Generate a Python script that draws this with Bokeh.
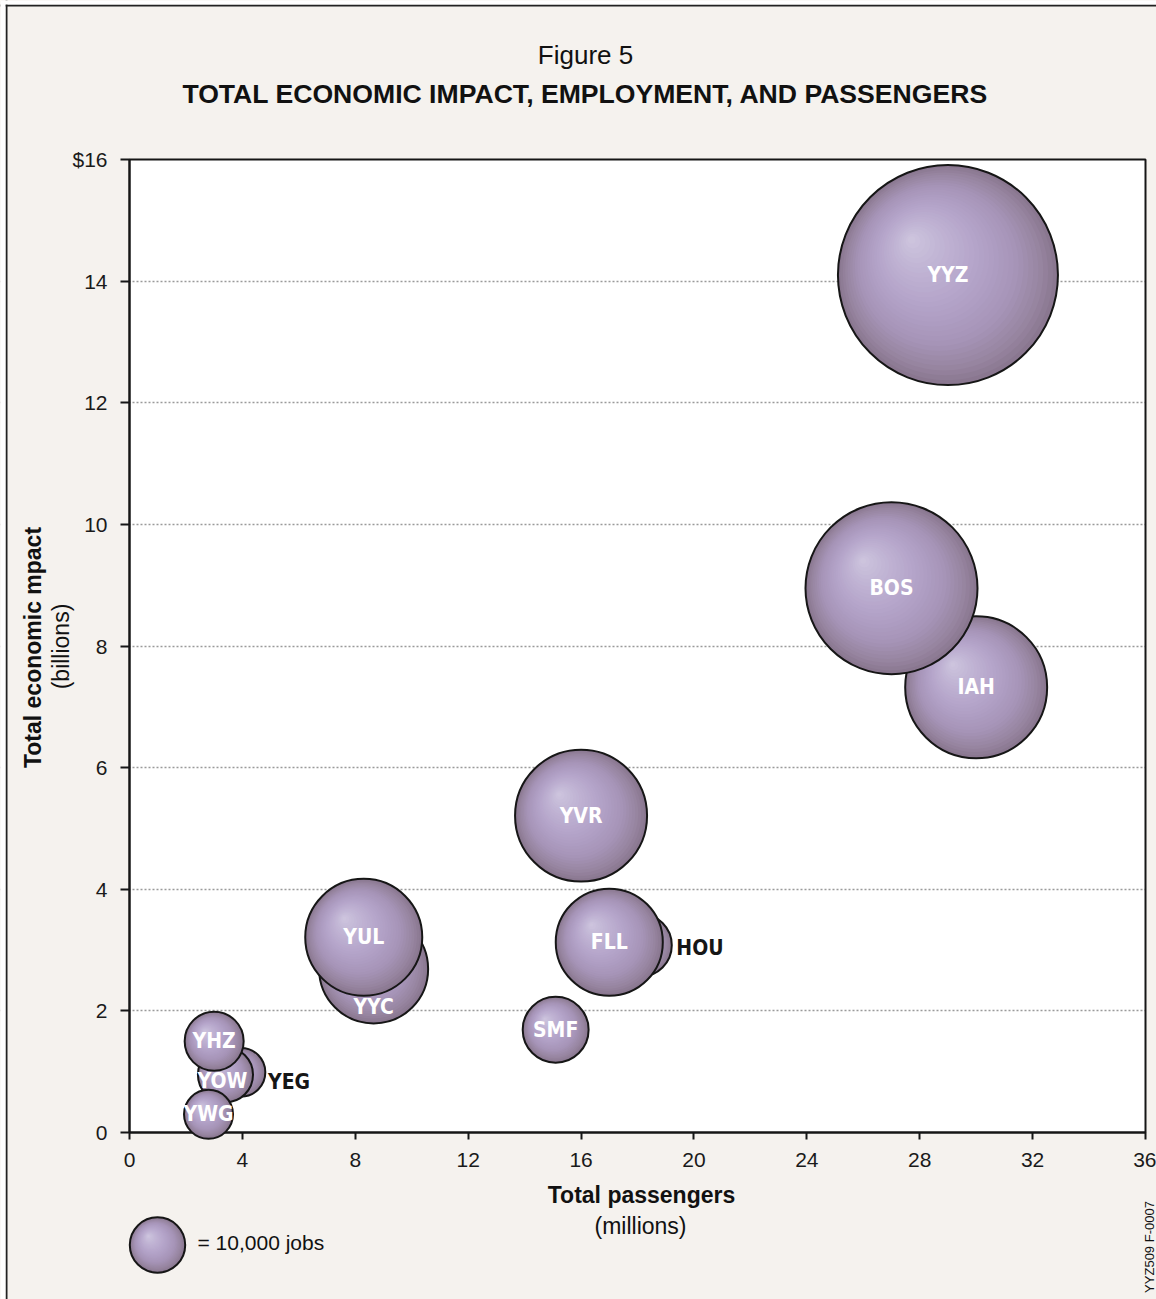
import math
from bokeh.plotting import figure
from bokeh.models import (Range1d, FixedTicker, Label, ColumnDataSource, LinearAxis, Grid,
                          BoxAnnotation, Span)
from bokeh.core.properties import value
from bokeh.embed import file_html
from bokeh.resources import INLINE

# ---------------- data ----------------
airports = ["YYZ", "BOS", "IAH", "YVR", "FLL", "HOU", "SMF", "YUL", "YYC", "YHZ", "YOW", "YEG", "YWG"]
passengers_m = [29.0, 27.0, 30.0, 16.0, 17.0, 18.1, 15.1, 8.3, 8.65, 3.0, 3.4, 3.95, 2.8]
impact_bn = [14.1, 8.95, 7.32, 5.21, 3.13, 3.08, 1.69, 3.21, 2.69, 1.5, 0.95, 0.99, 0.30]
jobs = [149600, 91900, 62900, 54500, 36100, 12800, 14000, 43000, 37400, 11300, 9900, 7800, 7900]
legend_jobs = 10000
x_ticks = [0, 4, 8, 12, 16, 20, 24, 28, 32, 36]
y_ticks = [0, 2, 4, 6, 8, 10, 12, 14, 16]
y_tick_labels = {16: "$16"}
x_bounds = (0, 36)
y_bounds = (0, 16)

# ---------------- style ----------------
BEIGE = "#f5f2ee"
INK = "#161616"
W, H = 1156, 1299
draw_order = ["IAH", "BOS", "YYZ", "YVR", "HOU", "FLL", "SMF", "YYC", "YUL", "YEG", "YOW", "YHZ", "YWG"]
# label style: (x offset px, y offset px, align, color)
label_style = {
    "YYC": (0, 38, "center", "white"),
    "YOW": (-3, 6, "center", "white"),
    "HOU": (36, 3, "left", INK),
    "YEG": (27, 10, "left", INK),
}
LABEL_FONT = value("DejaVu Sans Condensed, Liberation Sans Narrow, Liberation Sans, sans-serif")
BASE_D = 57.4        # outer diameter (px) of the 10,000 jobs bubble
LINE_W = 2
N_LAYERS = 30
FOCAL = (-0.34, 0.33)
stops = [(0.0, "#8a7790"), (0.10, "#9785a0"), (0.28, "#a795b9"),
         (0.55, "#b5a5ca"), (0.80, "#c2b6d5"), (1.0, "#cfc7df")]

# plot box position on the page (px)
BOX_L, BOX_T, BOX_W, BOX_H = 129, 159, 1016, 973
SX = BOX_W / (x_bounds[1] - x_bounds[0])
SY = BOX_H / (y_bounds[1] - y_bounds[0])


def X(px):
    return x_bounds[0] + (px - BOX_L) / SX


def Y(py):
    return y_bounds[0] + (BOX_T + BOX_H - py) / SY


def hex2rgb(h):
    return tuple(int(h[i:i + 2], 16) for i in (1, 3, 5))


def grad(t):
    for (t0, c0), (t1, c1) in zip(stops[:-1], stops[1:]):
        if t <= t1:
            f = (t - t0) / (t1 - t0)
            a, b = hex2rgb(c0), hex2rgb(c1)
            return "#%02x%02x%02x" % tuple(int(round(a[i] + (b[i] - a[i]) * f)) for i in range(3))
    return stops[-1][1]


def diameter(j):
    return BASE_D * math.sqrt(j / legend_jobs) - LINE_W


def bubble_source(cx, cy, d):
    r = d / 2.0
    xs, ys, sz, cols, fa, la = [], [], [], [], [], []
    for k in range(N_LAYERS):
        t = k / N_LAYERS
        xs.append(cx + FOCAL[0] * r * t / SX)
        ys.append(cy + FOCAL[1] * r * t / SY)
        sz.append(d * (1 - t))
        cols.append(grad(t))
        fa.append(1.0)
        la.append(0.0)
    xs.append(cx); ys.append(cy); sz.append(d); cols.append(grad(0)); fa.append(0.0); la.append(1.0)
    return ColumnDataSource(dict(x=xs, y=ys, size=sz, color=cols, fa=fa, la=la))


def draw_bubble(fig, cx, cy, d):
    fig.scatter("x", "y", size="size", fill_color="color", fill_alpha="fa",
                line_color=INK, line_alpha="la", line_width=LINE_W,
                source=bubble_source(cx, cy, d))


# ---------------- figure ----------------
p = figure(frame_width=W, frame_height=H, title=None,
           x_range=Range1d(X(0), X(W)), y_range=Range1d(Y(H), Y(0)),
           x_axis_type=None, y_axis_type=None, min_border=0,
           output_backend="svg", toolbar_location=None,
           background_fill_color=BEIGE, border_fill_color=BEIGE, outline_line_color=None)

# white plot box (bottom layer)
p.add_layout(BoxAnnotation(left=x_bounds[0], right=x_bounds[1], bottom=y_bounds[0], top=y_bounds[1],
                           fill_color="white", fill_alpha=1.0, line_alpha=0.0, level="image"))

grid = Grid(dimension=1, ticker=FixedTicker(ticks=y_ticks[1:-1]),
            grid_line_color="#9a9a9a", grid_line_dash="2 2", grid_line_width=1.5, level="image")
p.add_layout(grid)

# beige covers outside the plot box so grid lines stop at the box
for kw in (dict(right=x_bounds[0]), dict(left=x_bounds[1]), dict(bottom=y_bounds[1]), dict(top=y_bounds[0])):
    p.add_layout(BoxAnnotation(fill_color=BEIGE, fill_alpha=1.0, line_alpha=0.0, level="image", **kw))

# box outline
p.add_layout(BoxAnnotation(left=x_bounds[0], right=x_bounds[1], bottom=y_bounds[0], top=y_bounds[1],
                           fill_alpha=0.0, line_color=INK, line_alpha=1.0, line_width=2,
                           line_dash="solid", level="image"))

axis_style = dict(axis_line_color=INK, axis_line_width=2, major_tick_line_color=INK,
                  major_tick_line_width=2, major_tick_in=0, minor_tick_line_color=None,
                  major_label_text_font="Liberation Sans", major_label_text_font_size="21px",
                  major_label_text_color="#1a1a1a")
xaxis = LinearAxis(ticker=FixedTicker(ticks=x_ticks), fixed_location=y_bounds[0], bounds=x_bounds,
                   major_tick_out=7, major_label_standoff=13, level="underlay", **axis_style)
yaxis = LinearAxis(ticker=FixedTicker(ticks=y_ticks), fixed_location=x_bounds[0], bounds=y_bounds,
                   major_tick_out=9, major_label_standoff=13,
                   major_label_overrides=y_tick_labels, **axis_style)
p.add_layout(xaxis, "below")
p.add_layout(yaxis, "left")

# bubbles
idx = {a: i for i, a in enumerate(airports)}
for a in draw_order:
    i = idx[a]
    draw_bubble(p, passengers_m[i], impact_bn[i], diameter(jobs[i]))

lab = dict(x=[], y=[], text=[], xo=[], yo=[], align=[], color=[])
for i, a in enumerate(airports):
    xo, yo, al, col = label_style.get(a, (0, 0, "center", "white"))
    lab["x"].append(passengers_m[i]); lab["y"].append(impact_bn[i]); lab["text"].append(a)
    lab["xo"].append(xo); lab["yo"].append(yo); lab["align"].append(al); lab["color"].append(col)
p.text("x", "y", text="text", x_offset="xo", y_offset="yo", text_align="align",
       text_color="color", text_baseline="middle",
       text_font=LABEL_FONT, text_font_style="bold",
       text_font_size="21px", source=ColumnDataSource(lab))

# legend bubble
draw_bubble(p, X(157), Y(1244.5), diameter(legend_jobs))


def add_label(px, py, text, size, bold=False, align="center", angle=0.0, color="#111"):
    p.add_layout(Label(x=X(px), y=Y(py), text=text, text_font="Liberation Sans",
                       text_font_size=size, text_font_style="bold" if bold else "normal",
                       text_align=align, text_baseline="alphabetic", angle=angle,
                       text_color=color))


add_label(585, 54, "Figure 5", "26px")
add_label(585, 93, "TOTAL ECONOMIC IMPACT, EMPLOYMENT, AND PASSENGERS", "26.6px", bold=True)
add_label(641, 1194, "Total passengers", "23px", bold=True)
add_label(640, 1225, "(millions)", "23px")
add_label(32, 647, "Total economic mpact", "23px", bold=True, angle=math.pi / 2)
add_label(60, 646, "(billions)", "23px", angle=math.pi / 2)
add_label(197, 1242, "= 10,000 jobs", "21px", align="left")
add_label(1149, 1246.5, "YYZ509 F-0007", "13px", angle=math.pi / 2)

# outer frame lines with white margin
p.add_layout(Span(location=X(6), dimension="height", line_color="#222222", line_width=2))
p.add_layout(Span(location=Y(5), dimension="width", line_color="#222222", line_width=2))
p.add_layout(BoxAnnotation(right=X(5), fill_color="white", fill_alpha=1.0, line_alpha=0.0))
p.add_layout(BoxAnnotation(bottom=Y(4), fill_color="white", fill_alpha=1.0, line_alpha=0.0))

open("out.html", "w").write(file_html(p, INLINE))
